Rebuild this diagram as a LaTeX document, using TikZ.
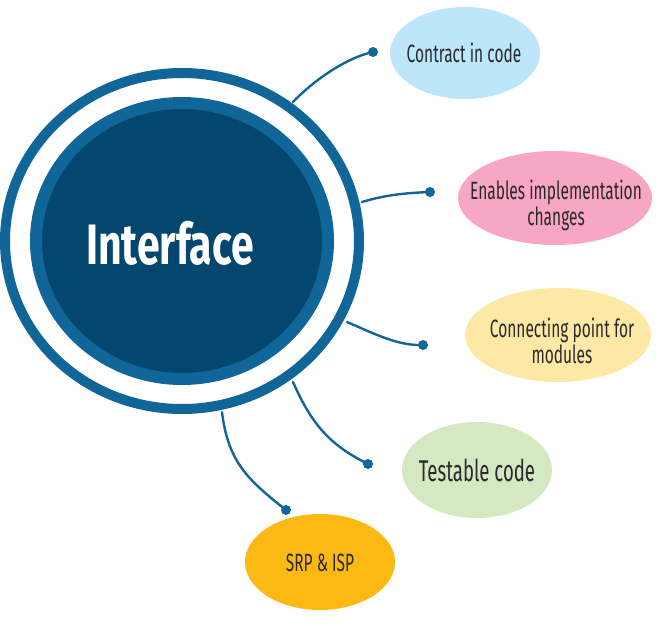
\documentclass[tikz,border=0pt]{standalone}
\usepackage{fontspec}
\setmainfont{Fira Sans}
\newfontfamily\bubfont[FakeStretch=0.62]{Fira Sans}
\newfontfamily\titlefont[FakeStretch=0.72]{Fira Sans}
\usetikzlibrary{shapes.geometric}
\definecolor{ringblue}{HTML}{106699}
\definecolor{darkfill}{HTML}{03476F}
\definecolor{bblue}{HTML}{BEE6FB}
\definecolor{bpink}{HTML}{F7A6C3}
\definecolor{byellow}{HTML}{FEE8A5}
\definecolor{bgreen}{HTML}{D4E8C1}
\definecolor{borange}{HTML}{FDB913}
\definecolor{txt}{HTML}{2A2A2A}
\tikzset{
  bubble/.style={ellipse, inner sep=0pt},
  btext/.style={inner sep=0pt, text=txt, align=center,
    font=\bubfont\fontsize{25}{26}\selectfont},
  conn/.style={draw=ringblue, line width=2.4pt, line cap=round},
  enddot/.style={fill=ringblue},
}
\begin{document}
\begin{tikzpicture}[x=1pt,y=-1pt]
\useasboundingbox (0,0) rectangle (665,626);
% outer ring
\draw[ringblue, line width=10pt] (182,241) ellipse [x radius=177, y radius=168];
% central disk
\node[ellipse, fill=darkfill, draw=ringblue, line width=12pt,
      minimum width=292pt, minimum height=276pt, inner sep=0pt] (iface) at (182,241) {};
\node[text=white, font=\titlefont\bfseries\fontsize{57}{60}\selectfont] (ifacetext) at (170,243) {Interface};

% bubbles
\node[bubble, fill=bblue, minimum width=150pt, minimum height=92pt] (b1) at (465,53) {};
\node[bubble, fill=bpink, minimum width=194pt, minimum height=94pt] (b2) at (555,198) {};
\node[bubble, fill=byellow, minimum width=186pt, minimum height=94pt] (b3) at (558,335) {};
\node[bubble, fill=bgreen, minimum width=150pt, minimum height=96pt] (b4) at (477,470) {};
\node[bubble, fill=borange, minimum width=150pt, minimum height=96pt] (b5) at (320,562) {};

\node[btext] (t1) at (464,53) {Contract in code};
\node[btext] (t2) at (556,205) {Enables implementation\\changes};
\node[btext] (t3) at (562,341) {Connecting point for\\modules};
\node[btext, font=\bubfont\fontsize{30}{32}\selectfont] (t4) at (477,470) {Testable code};
\node[btext] (t5) at (320,563) {SRP \& ISP};

% connector ends
\coordinate (s1) at (293,102);
\coordinate (d1) at (373,52);
\coordinate (s2) at (362,202);
\coordinate (d2) at (430,192);
\coordinate (s3) at (347,322);
\coordinate (d3) at (423,345);
\coordinate (s4) at (293,382);
\coordinate (d4) at (368,464);
\coordinate (s5) at (222,412);
\coordinate (d5) at (286,510);

\draw[conn] (s1) .. controls (312,82) and (345,58) .. (d1);
\draw[conn] (s2) .. controls (385,195) and (405,193) .. (d2);
\draw[conn] (s3) .. controls (375,334) and (398,346) .. (d3);
\draw[conn] (s4) .. controls (312,425) and (330,445) .. (d4);
\draw[conn] (s5) .. controls (228,462) and (248,480) .. (d5);

\foreach \d in {d1,d2,d3,d4,d5} \fill[enddot] (\d) circle [radius=5pt];
\end{tikzpicture}
\end{document}
